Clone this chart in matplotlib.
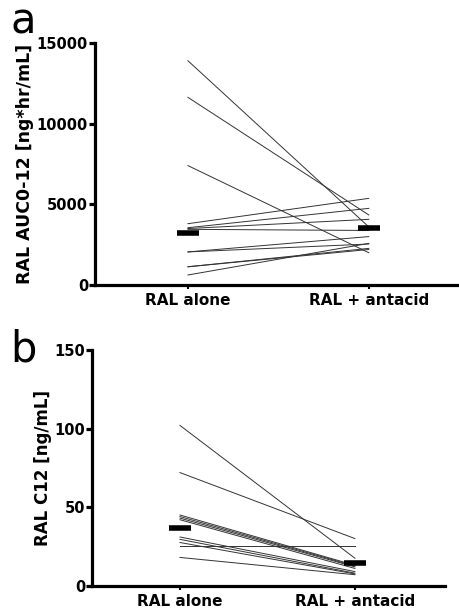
import matplotlib
matplotlib.use("Agg")
import matplotlib.pyplot as plt

# categories on the x axis
groups = ["RAL alone", "RAL + antacid"]

# panel a: AUC0-12 per subject (ng*hr/mL)
auc_alone = [13900, 11630, 7400, 3800, 3550, 3500, 3450, 2050, 2050, 1130, 1130, 620]
auc_antacid = [3600, 4340, 2000, 5370, 4750, 4070, 3380, 3000, 2540, 2270, 2200, 2580]
auc_mean = [3200, 3520]
auc_ticks = [0, 5000, 10000, 15000]

# panel b: C12 per subject (ng/mL)
c12_alone = [102, 72, 45, 44, 43, 42, 31, 29.5, 27.5, 25, 18]
c12_antacid = [17.5, 30, 13, 12.5, 12, 11, 9, 8, 7.5, 25, 7]
c12_mean = [37, 14.5]
c12_ticks = [0, 50, 100, 150]

plt.rcParams['font.family'] = ['DejaVu Sans']

fig = plt.figure(figsize=(4.6, 6.1), dpi=100)
ax_a = fig.add_axes([0.2065, 0.5328, 0.793, 0.3967])
ax_b = fig.add_axes([0.2, 0.0398, 0.767, 0.3864])


def draw_panel(ax, alone, antacid, mean, ticks, ylabel, xlim, label_size):
    for y0, y1 in zip(alone, antacid):
        ax.plot([0, 1], [y0, y1], color="#333333", lw=0.7, zorder=2)
    for i, m in enumerate(mean):
        ax.plot([i - 0.062, i + 0.062], [m, m], color="black", lw=4,
                solid_capstyle="butt", zorder=3)
    ax.set_xlim(*xlim)
    ax.set_ylim(ticks[0], ticks[-1])
    ax.set_yticks(ticks)
    ax.set_xticks([0, 1])
    ax.set_xticklabels(groups, fontsize=11, fontweight="bold")
    for t in ax.get_yticklabels():
        t.set_fontweight("bold")
        t.set_fontsize(10.5)
    ax.spines["top"].set_visible(False)
    ax.spines["right"].set_visible(False)
    ax.spines["left"].set_linewidth(2.3)
    ax.spines["bottom"].set_linewidth(2.3)
    ax.tick_params(axis="y", length=4, width=2.3, pad=1)
    ax.tick_params(axis="x", length=3, width=1.5, pad=3)
    ax.set_ylabel(ylabel, fontsize=label_size, fontweight="bold", labelpad=2)


draw_panel(ax_a, auc_alone, auc_antacid, auc_mean, auc_ticks,
           "RAL AUC0-12 [ng*hr/mL]", (-0.514, 1.503), 12.5)
draw_panel(ax_b, c12_alone, c12_antacid, c12_mean, c12_ticks,
           "RAL C12 [ng/mL]", (-0.503, 1.514), 12)

fig.text(23 / 460, 1 - 22 / 610, "a", fontsize=30, ha="center", va="center")
fig.text(23 / 460, 1 - 349 / 610, "b", fontsize=30, ha="center", va="center")

fig.savefig("out.png", dpi=100)
